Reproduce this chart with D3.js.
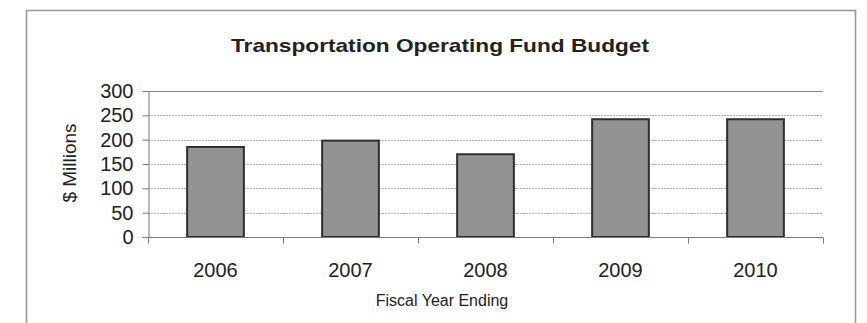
<!DOCTYPE html>
<html>
<head>
<meta charset="utf-8">
<script src="https://cdn.jsdelivr.net/npm/d3@7"></script>
<style>
  html, body { margin: 0; padding: 0; background: #fff; }
  svg { display: block; font-family: Arial, "Liberation Sans", sans-serif; }
</style>
</head>
<body>
<svg id="chart" width="867" height="323"></svg>
<script>
// Fiscal years and budget amounts ($ millions)
const years = ["2006", "2007", "2008", "2009", "2010"];
const budget = [185, 198, 170, 242, 242];
const yTicks = [0, 50, 100, 150, 200, 250, 300];

const titleText = "Transportation Operating Fund Budget";
const yTitle = "$ Millions";
const xTitle = "Fiscal Year Ending";

const svg = d3.select("#chart");

// Outer chart frame (bottom edge runs past the visible area)
svg.append("rect")
  .attr("x", 26.5).attr("y", 10.5)
  .attr("width", 829).attr("height", 340)
  .attr("fill", "#fff")
  .attr("stroke", "#9a9a9a")
  .attr("stroke-width", 1.6);

const plot = { left: 148, right: 823, top: 91, bottom: 237 };

const x = d3.scaleBand()
  .domain(years)
  .range([plot.left, plot.right])
  .paddingInner(0.58)
  .paddingOuter(0.29);

const xOuter = d3.scaleBand().domain(years).range([plot.left, plot.right]);

const y = d3.scaleLinear().domain([0, 300]).range([plot.bottom, plot.top]);

// Horizontal gridlines
svg.append("g")
  .selectAll("line")
  .data(yTicks.filter(t => t > 0))
  .join("line")
  .attr("x1", plot.left).attr("x2", plot.right)
  .attr("y1", d => Math.round(y(d)) + 0.5)
  .attr("y2", d => Math.round(y(d)) + 0.5)
  .attr("stroke", d => d === 300 ? "#8a8a8a" : "#b0b0b0")
  .attr("stroke-width", 1)
  .attr("stroke-dasharray", d => d === 300 ? null : "2,1");

// Bars
svg.append("g")
  .selectAll("rect")
  .data(years.map((yr, i) => ({ yr, v: budget[i] })))
  .join("rect")
  .attr("x", d => x(d.yr))
  .attr("y", d => y(d.v))
  .attr("width", x.bandwidth())
  .attr("height", d => y(0) - y(d.v))
  .attr("fill", "#939393")
  .attr("stroke", "#2e2e2e")
  .attr("stroke-width", 2);

// Y axis
const yAxis = d3.axisLeft(y).tickValues(yTicks).tickSize(6).tickPadding(9);
const gy = svg.append("g")
  .attr("transform", `translate(${plot.left + 0.5},0)`)
  .call(yAxis);
gy.select(".domain").attr("stroke", "#7a7a7a");
gy.selectAll(".tick line").attr("stroke", "#7a7a7a");
gy.selectAll(".tick text")
  .attr("font-size", 20)
  .attr("fill", "#222")
  .attr("font-family", "Arial, 'Liberation Sans', sans-serif");

// X axis with ticks at category boundaries
const gx = svg.append("g").attr("transform", `translate(0,${plot.bottom + 0.5})`);
gx.append("line")
  .attr("x1", plot.left).attr("x2", plot.right)
  .attr("stroke", "#7a7a7a");
const boundaries = years.map(yr => xOuter(yr)).concat([plot.right]);
gx.selectAll("line.tk")
  .data(boundaries)
  .join("line")
  .attr("class", "tk")
  .attr("x1", d => Math.round(d) + 0.5).attr("x2", d => Math.round(d) + 0.5)
  .attr("y1", 0).attr("y2", 6)
  .attr("stroke", "#7a7a7a");
gx.selectAll("text")
  .data(years)
  .join("text")
  .attr("x", d => x(d) + x.bandwidth() / 2)
  .attr("y", 39)
  .attr("text-anchor", "middle")
  .attr("font-size", 20)
  .attr("fill", "#222")
  .text(d => d);

// Titles
svg.append("text")
  .attr("x", 440).attr("y", 52)
  .attr("text-anchor", "middle")
  .attr("font-size", 19)
  .attr("font-weight", "bold")
  .attr("fill", "#222")
  .attr("textLength", 418)
  .attr("lengthAdjust", "spacingAndGlyphs")
  .text(titleText);

svg.append("text")
  .attr("transform", "translate(76,163) rotate(-90)")
  .attr("text-anchor", "middle")
  .attr("font-size", 19)
  .attr("fill", "#222")
  .text(yTitle);

svg.append("text")
  .attr("x", 442).attr("y", 306)
  .attr("text-anchor", "middle")
  .attr("font-size", 16)
  .attr("fill", "#222")
  .text(xTitle);
</script>
</body>
</html>
